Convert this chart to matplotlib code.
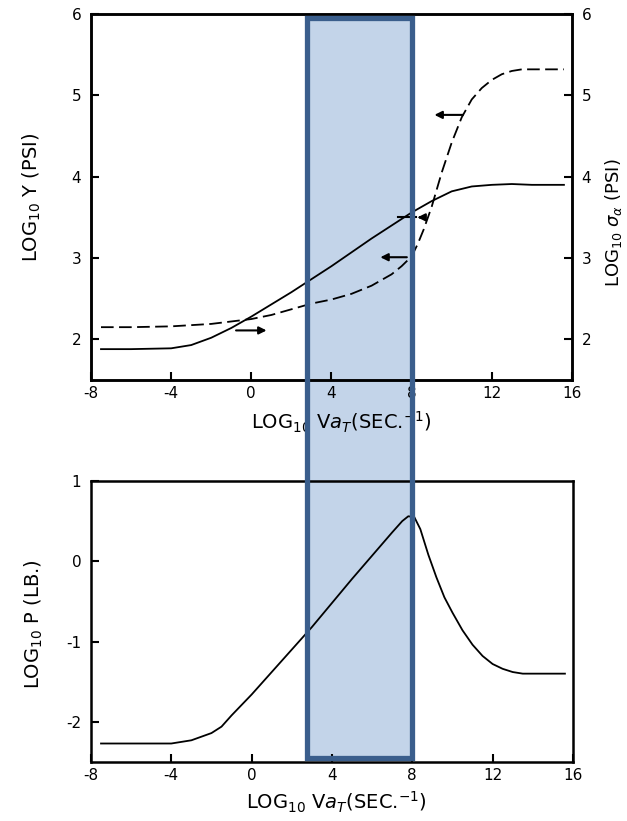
import matplotlib
matplotlib.use("Agg")
import matplotlib.pyplot as plt
from matplotlib.patches import Rectangle
from matplotlib.transforms import blended_transform_factory

# top panel: modulus Y (solid) and sigma (dashed)
y_x = [-7.5, -6, -4, -3, -2, -1, 0, 1, 2, 3, 4, 5, 6, 7, 8, 9, 10, 11, 12, 13, 14, 15.6]
y_val = [1.88, 1.88, 1.89, 1.93, 2.02, 2.14, 2.28, 2.43, 2.58, 2.74, 2.9, 3.07, 3.24, 3.4,
         3.56, 3.7, 3.82, 3.88, 3.9, 3.91, 3.9, 3.9]

sig_x = [-7.5, -6, -4, -2, 0, 1, 2, 3, 4, 5, 6, 7, 7.5, 8, 8.3, 8.6, 9, 9.5, 10, 10.5,
         11, 11.5, 12, 12.5, 13, 13.5, 14, 15.6]
sig_val = [2.15, 2.15, 2.16, 2.19, 2.25, 2.3, 2.37, 2.44, 2.49, 2.56, 2.66, 2.8, 2.9, 3.02,
           3.17, 3.35, 3.63, 4.05, 4.42, 4.73, 4.95, 5.09, 5.19, 5.26, 5.3, 5.32, 5.32, 5.32]

# bottom panel: peel force P
p_x = [-7.5, -6, -4, -3, -2, -1.5, -1, 0, 1, 2, 3, 4, 5, 6, 7, 7.5, 7.8, 8.1, 8.4, 8.8,
       9.2, 9.6, 10, 10.5, 11, 11.5, 12, 12.5, 13, 13.5, 14, 15.6]
p_val = [-2.27, -2.27, -2.27, -2.23, -2.14, -2.06, -1.92, -1.66, -1.38, -1.1, -0.82, -0.52,
         -0.22, 0.07, 0.36, 0.5, 0.56, 0.55, 0.4, 0.08, -0.2, -0.45, -0.64, -0.86, -1.04,
         -1.18, -1.28, -1.34, -1.38, -1.4, -1.4, -1.4]

x_ticks = [-8, -4, 0, 4, 8, 12, 16]
top_yticks = [2, 3, 4, 5, 6]
bot_yticks = [-2, -1, 0, 1]
band = (2.79, 8.03)

plt.rcParams['font.family'] = 'DejaVu Sans'
plt.rcParams['axes.unicode_minus'] = False

fig = plt.figure(figsize=(6.27, 8.21), dpi=100)
ax1 = fig.add_axes([0.1451, 0.5371, 0.7671, 0.4458])
ax2 = fig.add_axes([0.1451, 0.0719, 0.7687, 0.3423])
ax1r = ax1.twinx()

for a in (ax1, ax2, ax1r):
    a.set_facecolor('none')
    for s in a.spines.values():
        s.set_linewidth(1.8)
    a.tick_params(direction='in', length=6, width=1.5, labelsize=11, pad=7)
    a.tick_params(axis='x', pad=4)

ax1.plot(y_x, y_val, color='k', lw=1.3)
ax1.plot(sig_x, sig_val, color='k', lw=1.3, dashes=(7, 3))
ax1.set_xlim(-8, 16)
ax1.set_ylim(1.5, 6)
ax1r.set_ylim(1.5, 6)
ax1.set_xticks(x_ticks)
ax1.set_yticks(top_yticks)
ax1r.set_yticks(top_yticks)
ax1.set_ylabel(r'LOG$_{10}$ Y (PSI)', fontsize=14)
ax1.yaxis.set_label_coords(-0.1, 0.5)
ax1r.set_ylabel(r'LOG$_{10}$ $\sigma_{\alpha}$ (PSI)', fontsize=13, rotation=90)
ax1r.yaxis.set_label_coords(1.065, 0.43)
ax1.set_xlabel(r'LOG$_{10}$ V$a_{T}$(SEC.$^{-1}$)', fontsize=14)
ax1.xaxis.set_label_coords(0.52, -0.08)

arrow = dict(arrowstyle='-|>', lw=1.5, color='k', mutation_scale=11)
ax1.annotate('', xy=(0.9, 2.11), xytext=(-0.9, 2.11), arrowprops=arrow)
ax1.annotate('', xy=(9.0, 4.76), xytext=(10.7, 4.76), arrowprops=arrow)
ax1.annotate('', xy=(6.3, 3.01), xytext=(7.9, 3.01), arrowprops=arrow)
ax1.plot([7.3, 8.2], [3.5, 3.5], color='k', lw=1.5)
ax1.annotate('', xy=(8.15, 3.5), xytext=(8.65, 3.5), arrowprops=arrow)

ax2.plot(p_x, p_val, color='k', lw=1.3)
ax2.set_xlim(-8, 16)
ax2.set_ylim(-2.5, 1)
ax2.set_xticks(x_ticks)
ax2.set_yticks(bot_yticks)
ax2.set_ylabel(r'LOG$_{10}$ P (LB.)', fontsize=14)
ax2.yaxis.set_label_coords(-0.095, 0.49)
ax2.set_xlabel(r'LOG$_{10}$ V$a_{T}$(SEC.$^{-1}$)', fontsize=14)
ax2.xaxis.set_label_coords(0.51, -0.1)

# highlight band across both panels: fill behind, edge on top
tr = blended_transform_factory(ax1.transData, fig.transFigure)
y0, y1 = 0.0767, 0.978
fig.patches.append(Rectangle((band[0], y0), band[1] - band[0], y1 - y0, transform=tr,
                             facecolor='#c3d4e9', edgecolor='none', zorder=-1))
fig.patches.append(Rectangle((band[0], y0), band[1] - band[0], y1 - y0, transform=tr,
                             facecolor='none', edgecolor='#3a5e8c', lw=3.8, zorder=10))

fig.savefig('out.png', dpi=100)
